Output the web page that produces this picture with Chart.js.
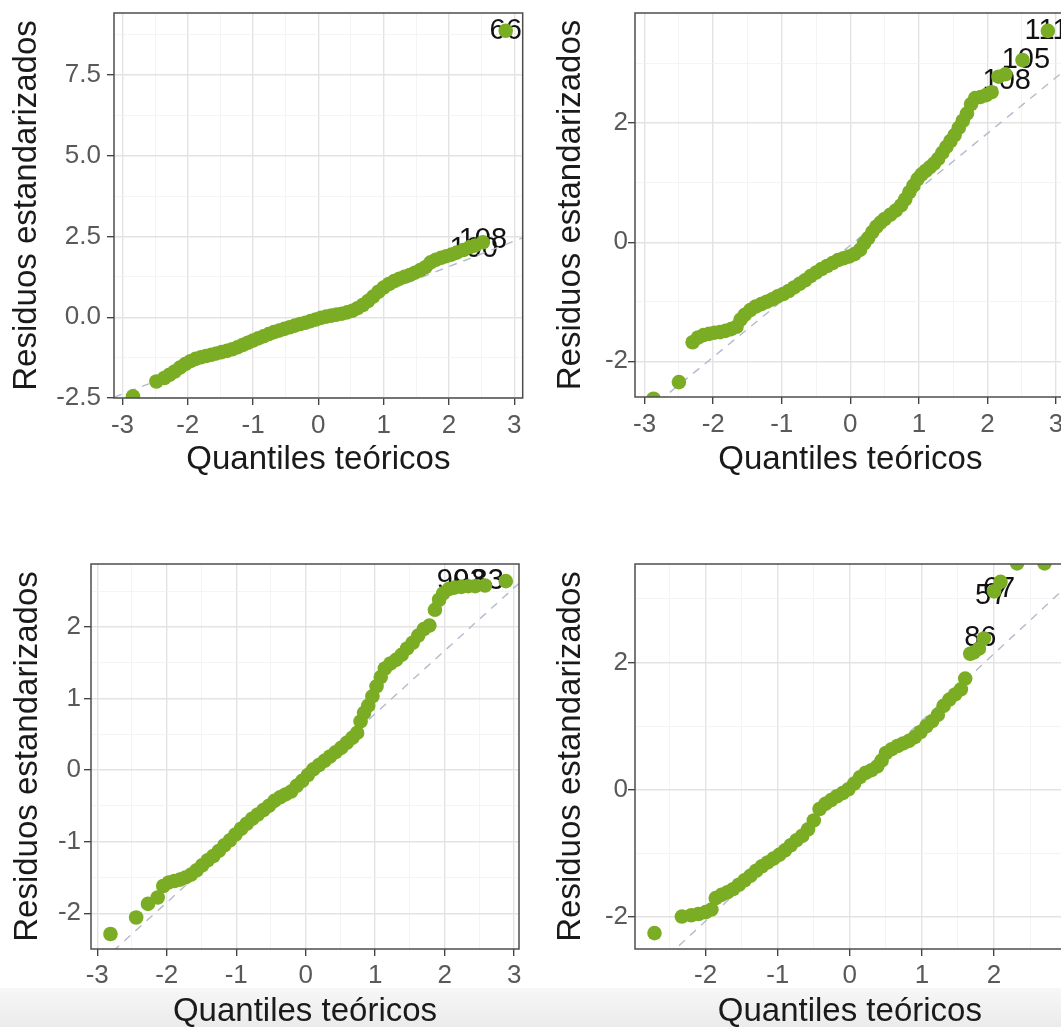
<!DOCTYPE html>
<html>
<head>
<meta charset="utf-8">
<script src="https://cdn.jsdelivr.net/npm/chart.js@4.4.1/dist/chart.umd.min.js"></script>
<style>
  html, body { margin: 0; padding: 0; width: 1061px; height: 1027px; overflow: hidden; background: #fff; }
  body { position: relative; }
  .panel { position: absolute; }
  #fade { position: absolute; left: 0; top: 988px; width: 1061px; height: 39px; background: linear-gradient(#f7f7f7, #ebebeb); }
</style>
</head>
<body>
<div id="fade"></div>
<canvas id="qq1" class="panel" width="530" height="480" style="left:0;top:0"></canvas>
<canvas id="qq2" class="panel" width="543" height="480" style="left:530px;top:0"></canvas>
<canvas id="qq3" class="panel" width="530" height="487" style="left:0;top:550px"></canvas>
<canvas id="qq4" class="panel" width="542" height="487" style="left:530px;top:550px"></canvas>
<script>
const FONT = '"Liberation Sans", Arial, Helvetica, sans-serif';
const GREEN = '#7aad24';

// panel 1 (top left)
const q1x = [-2.84, -2.48, -2.36, -2.28, -2.20, -2.12, -2.04, -1.96, -1.88, -1.80, -1.72, -1.64, -1.56, -1.48, -1.40,
  -1.32, -1.24, -1.16, -1.08, -1.00, -0.92, -0.84, -0.76, -0.68, -0.60, -0.52, -0.44, -0.36, -0.28, -0.20, -0.12, -0.04,
  0.04, 0.12, 0.20, 0.28, 0.36, 0.44, 0.52, 0.60, 0.68, 0.76, 0.84, 0.92, 1.00, 1.08, 1.16, 1.24, 1.32, 1.40, 1.48, 1.56,
  1.64, 1.72, 1.80, 1.88, 1.96, 2.04, 2.12, 2.22, 2.32, 2.40, 2.52, 2.87];
const q1y = [-2.45, -1.99, -1.88, -1.78, -1.68, -1.56, -1.45, -1.36, -1.29, -1.24, -1.20, -1.16, -1.12, -1.08, -1.04,
  -0.99, -0.93, -0.86, -0.79, -0.72, -0.65, -0.59, -0.52, -0.46, -0.41, -0.36, -0.31, -0.26, -0.21, -0.17, -0.12, -0.07,
  -0.02, 0.02, 0.05, 0.08, 0.11, 0.15, 0.20, 0.28, 0.38, 0.50, 0.64, 0.79, 0.92, 1.03, 1.12, 1.19, 1.25, 1.31, 1.38, 1.46,
  1.55, 1.70, 1.78, 1.84, 1.89, 1.94, 2.00, 2.08, 2.17, 2.22, 2.32, 8.87];
const lab1Text = ['66', '100', '108'];
const lab1X = [2.87, 2.38, 2.52];
const lab1Y = [8.87, 2.12, 2.38];
const line1X = [-3.13, 3.13];
const line1Y = [-2.48, 2.46];
const x1Major = [-3, -2, -1, 0, 1, 2, 3];
const x1Labels = ['-3', '-2', '-1', '0', '1', '2', '3'];
const x1Minor = [-2.5, -1.5, -0.5, 0.5, 1.5, 2.5];
const y1Major = [-2.5, 0, 2.5, 5, 7.5];
const y1Labels = ['-2.5', '0.0', '2.5', '5.0', '7.5'];
const y1Minor = [-1.25, 1.25, 3.75, 6.25, 8.75];

// panel 2 (top right)
const q2x = [-2.87, -2.50, -2.30, -2.22, -2.14, -2.06, -1.98, -1.90, -1.82, -1.74, -1.66, -1.60, -1.54, -1.46, -1.38,
  -1.30, -1.22, -1.14, -1.06, -0.98, -0.90, -0.82, -0.74, -0.66, -0.58, -0.50, -0.42, -0.34, -0.26, -0.18, -0.10, -0.02,
  0.06, 0.14, 0.20, 0.26, 0.32, 0.38, 0.44, 0.50, 0.58, 0.66, 0.74, 0.80, 0.86, 0.92, 0.98, 1.04, 1.10, 1.16, 1.22, 1.28,
  1.34, 1.40, 1.46, 1.52, 1.58, 1.64, 1.70, 1.76, 1.82, 1.90, 1.98, 2.06, 2.16, 2.26, 2.51, 2.88];
const q2y = [-2.63, -2.35, -1.68, -1.60, -1.56, -1.54, -1.52, -1.51, -1.49, -1.46, -1.42, -1.30, -1.22, -1.14, -1.08,
  -1.04, -1.00, -0.96, -0.91, -0.87, -0.82, -0.76, -0.70, -0.64, -0.57, -0.51, -0.45, -0.40, -0.35, -0.30, -0.27, -0.24,
  -0.20, -0.13, -0.02, 0.07, 0.17, 0.26, 0.33, 0.39, 0.46, 0.53, 0.62, 0.72, 0.84, 0.95, 1.06, 1.14, 1.20, 1.26, 1.32, 1.40,
  1.50, 1.60, 1.70, 1.80, 1.92, 2.04, 2.16, 2.32, 2.42, 2.44, 2.47, 2.52, 2.78, 2.82, 3.06, 3.55];
const lab2Text = ['111', '105', '108'];
const lab2X = [2.86, 2.56, 2.28];
const lab2Y = [3.55, 3.06, 2.70];
const line2X = [-3.14, 3.14];
const line2Y = [-3.00, 2.90];
const x2Major = [-3, -2, -1, 0, 1, 2, 3];
const x2Labels = ['-3', '-2', '-1', '0', '1', '2', '3'];
const x2Minor = [-2.5, -1.5, -0.5, 0.5, 1.5, 2.5];
const y2Major = [-2, 0, 2];
const y2Labels = ['-2', '0', '2'];
const y2Minor = [-1, 1, 3];

// panel 3 (bottom left)
const q3x = [-2.81, -2.44, -2.27, -2.13, -2.05, -1.97, -1.89, -1.81, -1.73, -1.65, -1.57, -1.49, -1.41, -1.33, -1.25,
  -1.17, -1.09, -1.01, -0.93, -0.85, -0.77, -0.69, -0.61, -0.53, -0.45, -0.37, -0.29, -0.21, -0.13, -0.05, 0.03, 0.11,
  0.19, 0.27, 0.35, 0.43, 0.51, 0.59, 0.67, 0.74, 0.79, 0.84, 0.90, 0.96, 1.02, 1.08, 1.14, 1.22, 1.30, 1.38, 1.46, 1.54,
  1.62, 1.70, 1.78, 1.86, 1.92, 1.98, 2.06, 2.14, 2.24, 2.34, 2.44, 2.58, 2.88];
const q3y = [-2.29, -2.06, -1.87, -1.78, -1.62, -1.57, -1.55, -1.53, -1.50, -1.46, -1.40, -1.33, -1.26, -1.20, -1.13,
  -1.05, -0.98, -0.90, -0.82, -0.75, -0.68, -0.62, -0.56, -0.50, -0.43, -0.38, -0.34, -0.30, -0.22, -0.15, -0.07, 0.01,
  0.07, 0.13, 0.19, 0.25, 0.31, 0.38, 0.45, 0.52, 0.68, 0.80, 0.90, 1.03, 1.17, 1.30, 1.42, 1.49, 1.54, 1.61, 1.70, 1.78,
  1.88, 1.97, 2.02, 2.24, 2.38, 2.47, 2.53, 2.55, 2.56, 2.57, 2.57, 2.58, 2.64];
const lab3Text = ['90', '93', '83'];
const lab3X = [2.12, 2.36, 2.62];
const lab3Y = [2.64, 2.64, 2.64];
const line3X = [-3.09, 3.07];
const line3Y = [-2.81, 2.61];
const x3Major = [-3, -2, -1, 0, 1, 2, 3];
const x3Labels = ['-3', '-2', '-1', '0', '1', '2', '3'];
const x3Minor = [-2.5, -1.5, -0.5, 0.5, 1.5, 2.5];
const y3Major = [-2, -1, 0, 1, 2];
const y3Labels = ['-2', '-1', '0', '1', '2'];
const y3Minor = [-1.5, -0.5, 0.5, 1.5, 2.5];

// panel 4 (bottom right)
const q4x = [-2.71, -2.33, -2.20, -2.10, -2.00, -1.92, -1.86, -1.78, -1.70, -1.62, -1.54, -1.46, -1.38, -1.30, -1.22,
  -1.14, -1.06, -0.98, -0.90, -0.82, -0.74, -0.66, -0.58, -0.50, -0.42, -0.34, -0.26, -0.18, -0.10, -0.02, 0.06, 0.14,
  0.22, 0.30, 0.38, 0.44, 0.50, 0.58, 0.66, 0.74, 0.82, 0.90, 0.98, 1.06, 1.14, 1.22, 1.30, 1.38, 1.46, 1.54, 1.60, 1.67,
  1.72, 1.79, 1.86, 2.00, 2.09, 2.32, 2.70];
const q4y = [-2.25, -1.99, -1.97, -1.95, -1.92, -1.88, -1.70, -1.65, -1.61, -1.56, -1.49, -1.42, -1.35, -1.27, -1.20,
  -1.14, -1.08, -1.02, -0.95, -0.87, -0.79, -0.72, -0.62, -0.48, -0.30, -0.22, -0.16, -0.10, -0.05, 0.01, 0.10, 0.20,
  0.27, 0.31, 0.37, 0.46, 0.58, 0.64, 0.69, 0.73, 0.77, 0.83, 0.91, 1.00, 1.08, 1.18, 1.32, 1.42, 1.50, 1.58, 1.75, 2.14,
  2.16, 2.22, 2.38, 3.12, 3.27, 3.56, 3.56];
const lab4Text = ['86', '57', '67'];
const lab4X = [1.81, 1.96, 2.07];
const lab4Y = [2.38, 3.05, 3.15];
const line4X = [-2.98, 2.98];
const line4Y = [-3.09, 3.17];
const x4Major = [-2, -1, 0, 1, 2];
const x4Labels = ['-2', '-1', '0', '1', '2'];
const x4Minor = [-2.5, -1.5, -0.5, 0.5, 1.5, 2.5];
const y4Major = [-2, 0, 2];
const y4Labels = ['-2', '0', '2'];
const y4Minor = [-1, 1, 3];

function isMajor(v, major) {
  return major.some(m => Math.abs(m - v) < 1e-6);
}

function scaleOpts(o) {
  return {
    type: 'linear',
    min: o.min,
    max: o.max,
    afterBuildTicks: s => {
      s.ticks = o.major.concat(o.minor).sort((a, b) => a - b).map(v => ({ value: v }));
    },
    afterFit: s => {
      if (o.width) s.width = o.width;
      if (o.height) s.height = o.height;
      // minor ticks carry empty labels; don't let them push the plot area
      s.paddingTop = s.paddingBottom = s.paddingLeft = s.paddingRight = 0;
    },
    ticks: {
      autoSkip: false,
      maxRotation: 0,
      padding: o.tickPad,
      color: '#595959',
      font: { family: FONT, size: 26 },
      callback: v => {
        const i = o.major.findIndex(m => Math.abs(m - v) < 1e-6);
        return i >= 0 ? o.labels[i] : '';
      }
    },
    grid: {
      color: c => (c.tick && isMajor(c.tick.value, o.major)) ? '#e3e3e3' : '#f1f1f1',
      lineWidth: c => (c.tick && isMajor(c.tick.value, o.major)) ? 1.4 : 0.8,
      tickColor: c => (c.tick && isMajor(c.tick.value, o.major)) ? '#3a3a3a' : 'rgba(0,0,0,0)',
      tickWidth: 1.3,
      tickLength: 7
    },
    border: { display: false },
    title: {
      display: true,
      text: o.title,
      color: '#1a1a1a',
      font: { family: FONT, size: 33 },
      padding: o.titlePad
    }
  };
}

const panelBorder = {
  id: 'panelBorder',
  afterDatasetsDraw(chart) {
    const { ctx, chartArea: a } = chart;
    ctx.save();
    ctx.strokeStyle = '#4d4d4d';
    ctx.lineWidth = 1.5;
    ctx.strokeRect(a.left, a.top, a.right - a.left, a.bottom - a.top);
    ctx.restore();
  }
};

// labels go under the points, as in the original
function labelPlugin(text, xs, ys) {
  return {
    id: 'pointLabels',
    beforeDatasetsDraw(chart) {
      const { ctx, scales } = chart;
      ctx.save();
      ctx.font = '29px ' + FONT;
      ctx.fillStyle = '#111';
      ctx.textAlign = 'center';
      ctx.textBaseline = 'middle';
      text.forEach((t, i) => {
        ctx.fillText(t, scales.x.getPixelForValue(xs[i]), scales.y.getPixelForValue(ys[i]));
      });
      ctx.restore();
    }
  };
}

function gen_panel(canvas, p) {
  const ctx = document.getElementById(canvas);
  return new Chart(ctx, {
    type: 'scatter',
    data: {
      datasets: [{
        data: p.qx.map((v, i) => ({ x: v, y: p.qy[i] })),
        backgroundColor: GREEN,
        borderWidth: 0,
        pointRadius: 7.3,
        pointHoverRadius: 7.3,
        clip: 0,
        order: 1
      }, {
        type: 'line',
        data: p.lineX.map((v, i) => ({ x: v, y: p.lineY[i] })),
        borderColor: '#b5bacb',
        borderWidth: 1.4,
        borderDash: [8, 7],
        pointRadius: 0,
        fill: false,
        clip: 0,
        order: 2
      }]
    },
    options: {
      responsive: false,
      animation: false,
      events: [],
      layout: { padding: { top: p.padTop, right: p.padRight, left: 0, bottom: 0 } },
      plugins: {
        legend: { display: false },
        tooltip: { enabled: false }
      },
      scales: {
        x: scaleOpts({
          min: p.xMin, max: p.xMax, major: p.xMajor, labels: p.xLabels, minor: p.xMinor,
          height: p.xH, tickPad: p.xTickPad, title: 'Quantiles teóricos',
          titlePad: { top: 0, bottom: p.xTitlePad }
        }),
        y: scaleOpts({
          min: p.yMin, max: p.yMax, major: p.yMajor, labels: p.yLabels, minor: p.yMinor,
          width: p.yW, tickPad: p.yTickPad, title: 'Residuos estandarizados',
          titlePad: { top: p.yTitlePad, bottom: 0 }
        })
      }
    },
    plugins: [panelBorder, labelPlugin(p.labText, p.labX, p.labY)]
  });
}

gen_panel('qq1', {
  qx: q1x, qy: q1y, lineX: line1X, lineY: line1Y, labText: lab1Text, labX: lab1X, labY: lab1Y,
  xMin: -3.13, xMax: 3.13, xMajor: x1Major, xLabels: x1Labels, xMinor: x1Minor,
  yMin: -2.5, yMax: 9.42, yMajor: y1Major, yLabels: y1Labels, yMinor: y1Minor,
  padTop: 13, padRight: 7, yW: 114, xH: 82, xTickPad: 5, yTickPad: 6, xTitlePad: 0, yTitlePad: 7
});

gen_panel('qq2', {
  qx: q2x, qy: q2y, lineX: line2X, lineY: line2Y, labText: lab2Text, labX: lab2X, labY: lab2Y,
  xMin: -3.14, xMax: 3.14, xMajor: x2Major, xLabels: x2Labels, xMinor: x2Minor,
  yMin: -2.6, yMax: 3.85, yMajor: y2Major, yLabels: y2Labels, yMinor: y2Minor,
  padTop: 13, padRight: 7, yW: 105, xH: 83, xTickPad: 5, yTickPad: 0, xTitlePad: 0, yTitlePad: 21
});

gen_panel('qq3', {
  qx: q3x, qy: q3y, lineX: line3X, lineY: line3Y, labText: lab3Text, labX: lab3X, labY: lab3Y,
  xMin: -3.09, xMax: 3.07, xMajor: x3Major, xLabels: x3Labels, xMinor: x3Minor,
  yMin: -2.5, yMax: 2.88, yMajor: y3Major, yLabels: y3Labels, yMinor: y3Minor,
  padTop: 14, padRight: 11, yW: 91, xH: 88, xTickPad: 4, yTickPad: 3, xTitlePad: 5, yTitlePad: 8
});

gen_panel('qq4', {
  qx: q4x, qy: q4y, lineX: line4X, lineY: line4Y, labText: lab4Text, labX: lab4X, labY: lab4Y,
  xMin: -2.98, xMax: 2.98, xMajor: x4Major, xLabels: x4Labels, xMinor: x4Minor,
  yMin: -2.5, yMax: 3.55, yMajor: y4Major, yLabels: y4Labels, yMinor: y4Minor,
  padTop: 14, padRight: 7, yW: 105, xH: 88, xTickPad: 4, yTickPad: 0, xTitlePad: 5, yTitlePad: 21
});
</script>
</body>
</html>
